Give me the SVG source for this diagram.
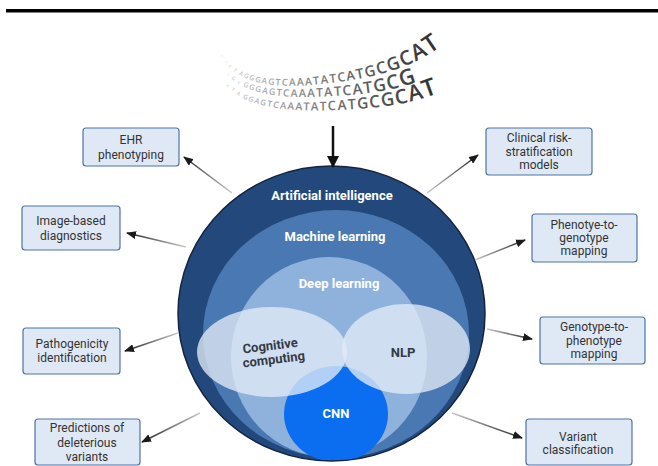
<svg xmlns="http://www.w3.org/2000/svg" width="658" height="466" viewBox="0 0 658 466">
  <style>
    .box { fill: #dfe9f6; stroke: #4f74a3; stroke-width: 1.2; }
    .btxt { font-family: Roboto, "Liberation Sans", sans-serif; font-size: 12px; fill: #333; text-anchor: middle; }
    .ring { font-family: Roboto, "Liberation Sans", sans-serif; font-size: 13px; font-weight: bold; text-anchor: middle; }
    .wt { fill: #ffffff; }
    .dk { fill: #333b46; }
    .dna { font-family: "Open Sans", "DejaVu Sans", sans-serif; font-weight: 600; letter-spacing: 1.3px; fill: url(#dnaFade); }
    .conn { fill: none; stroke-width: 1.5; }
  </style>
  <defs>
    <marker id="head" markerUnits="userSpaceOnUse" markerWidth="10" markerHeight="8" refX="9" refY="4" orient="auto">
      <path d="M0,0 L10,4 L0,8 Z" fill="#1a1a1a"/>
    </marker>
    <marker id="bighead" markerUnits="userSpaceOnUse" markerWidth="12" markerHeight="12" refX="11" refY="6" orient="auto">
      <path d="M0,0 L12,6 L0,12 Z" fill="#111"/>
    </marker>
    <linearGradient id="dnaFade" gradientUnits="userSpaceOnUse" x1="222" y1="0" x2="440" y2="0">
      <stop offset="0" stop-color="#d6d6d6"/>
      <stop offset="0.35" stop-color="#8a8a8a"/>
      <stop offset="1" stop-color="#2c2c2c"/>
    </linearGradient>
    <!-- connector fades: pale at the circle, dark at the arrowhead -->
    <linearGradient id="g1" gradientUnits="userSpaceOnUse" x1="232" y1="193" x2="184" y2="157"><stop offset="0" stop-color="#c8c8c8"/><stop offset="1" stop-color="#222"/></linearGradient>
    <linearGradient id="g2" gradientUnits="userSpaceOnUse" x1="186" y1="247" x2="127" y2="233"><stop offset="0" stop-color="#c8c8c8"/><stop offset="1" stop-color="#222"/></linearGradient>
    <linearGradient id="g3" gradientUnits="userSpaceOnUse" x1="178" y1="333" x2="125" y2="351"><stop offset="0" stop-color="#c8c8c8"/><stop offset="1" stop-color="#222"/></linearGradient>
    <linearGradient id="g4" gradientUnits="userSpaceOnUse" x1="200" y1="413" x2="142" y2="442"><stop offset="0" stop-color="#c8c8c8"/><stop offset="1" stop-color="#222"/></linearGradient>
    <linearGradient id="g5" gradientUnits="userSpaceOnUse" x1="427" y1="193" x2="478" y2="155"><stop offset="0" stop-color="#c8c8c8"/><stop offset="1" stop-color="#222"/></linearGradient>
    <linearGradient id="g6" gradientUnits="userSpaceOnUse" x1="475" y1="260" x2="525" y2="240"><stop offset="0" stop-color="#c8c8c8"/><stop offset="1" stop-color="#222"/></linearGradient>
    <linearGradient id="g7" gradientUnits="userSpaceOnUse" x1="487" y1="329" x2="532" y2="339"><stop offset="0" stop-color="#c8c8c8"/><stop offset="1" stop-color="#222"/></linearGradient>
    <linearGradient id="g8" gradientUnits="userSpaceOnUse" x1="452" y1="413" x2="522" y2="438"><stop offset="0" stop-color="#c8c8c8"/><stop offset="1" stop-color="#222"/></linearGradient>
    <clipPath id="outerClip">
      <ellipse cx="331.5" cy="313.5" rx="153.5" ry="147.5"/>
    </clipPath>
    <path id="row1" d="M 220,56 C 238,85 275,89 322,84 S 412,70 446,42"/>
    <path id="row2" d="M 224,71 C 244,96 282,99 334,96 S 418,86 452,64"/>
    <path id="row3" d="M 226,86 C 248,108 286,112 338,110 S 422,102 456,85"/>
  </defs>

  <!-- header rule -->
  <rect x="6" y="9" width="652" height="3.5" fill="#000"/>

  <!-- DNA sequence ribbon -->
  <g id="dna">
    <text class="dna"><textPath href="#row1" startOffset="0"><tspan font-size="4" opacity="0.5">c' r </tspan><tspan font-size="5">c T </tspan><tspan font-size="6">A</tspan><tspan font-size="6.5">G</tspan><tspan font-size="7">G</tspan><tspan font-size="7.5">G</tspan><tspan font-size="8">A</tspan><tspan font-size="8.5">G</tspan><tspan font-size="9">T</tspan><tspan font-size="9.5">C</tspan><tspan font-size="10">A</tspan><tspan font-size="10.5">A</tspan><tspan font-size="10.5">A</tspan><tspan font-size="11">T</tspan><tspan font-size="11.5">A</tspan><tspan font-size="12">T</tspan><tspan font-size="12.5">C</tspan><tspan font-size="13">A</tspan><tspan font-size="14">T</tspan><tspan font-size="15">G</tspan><tspan font-size="16.5">C</tspan><tspan font-size="18">G</tspan><tspan font-size="20">C</tspan><tspan font-size="22">A</tspan><tspan font-size="24">T</tspan></textPath></text>
    <text class="dna"><textPath href="#row2" startOffset="0"><tspan font-size="4" opacity="0.5">' c </tspan><tspan font-size="5">G c </tspan><tspan font-size="7">G</tspan><tspan font-size="7.5">G</tspan><tspan font-size="8">G</tspan><tspan font-size="8.5">A</tspan><tspan font-size="9">G</tspan><tspan font-size="9.5">T</tspan><tspan font-size="10">C</tspan><tspan font-size="10.5">A</tspan><tspan font-size="11">A</tspan><tspan font-size="11.5">A</tspan><tspan font-size="12">T</tspan><tspan font-size="12.5">A</tspan><tspan font-size="13">T</tspan><tspan font-size="14">C</tspan><tspan font-size="15">A</tspan><tspan font-size="16">T</tspan><tspan font-size="17.5">G</tspan><tspan font-size="19.5">C</tspan><tspan font-size="22">G</tspan></textPath></text>
    <text class="dna"><textPath href="#row3" startOffset="0"><tspan font-size="5">c T A </tspan><tspan font-size="6.5">G</tspan><tspan font-size="7">G</tspan><tspan font-size="7.5">A</tspan><tspan font-size="8">G</tspan><tspan font-size="8.5">T</tspan><tspan font-size="9">C</tspan><tspan font-size="9.5">A</tspan><tspan font-size="10">A</tspan><tspan font-size="10.5">A</tspan><tspan font-size="11">T</tspan><tspan font-size="11.5">A</tspan><tspan font-size="12">T</tspan><tspan font-size="13">C</tspan><tspan font-size="13.5">A</tspan><tspan font-size="14.5">T</tspan><tspan font-size="15.5">G</tspan><tspan font-size="17">C</tspan><tspan font-size="18.5">G</tspan><tspan font-size="20">C</tspan><tspan font-size="22">A</tspan><tspan font-size="24">T</tspan></textPath></text>
  </g>

  <!-- nested AI circles -->
  <g id="ai-circle">
    <ellipse cx="331.5" cy="313.5" rx="153.5" ry="147.5" fill="#23487b"/>
    <g clip-path="url(#outerClip)">
      <ellipse id="ml" cx="336" cy="334" rx="133" ry="124" fill="#4a78b2"/>
      <ellipse id="dl" cx="329" cy="357" rx="98" ry="100" fill="#8fb2dd"/>
      <ellipse id="cnn" cx="336" cy="414" rx="52" ry="48" fill="#0b6df0"/>
      <ellipse id="cognitive" cx="272" cy="352" rx="75" ry="45" fill="#e2eaf6" fill-opacity="0.78"/>
      <ellipse id="nlp" cx="406" cy="349" rx="64" ry="45" fill="#e2eaf6" fill-opacity="0.78"/>
    </g>
    <ellipse cx="331.5" cy="313.5" rx="153.5" ry="147.5" fill="none" stroke="#14243f" stroke-width="1.5"/>
    <text class="ring wt" x="332" y="200">Artificial intelligence</text>
    <text class="ring wt" x="335" y="241">Machine learning</text>
    <text class="ring wt" x="339" y="288">Deep learning</text>
    <text class="ring dk" transform="rotate(-7 271 353)"><tspan x="271" y="350">Cognitive</tspan><tspan x="273" y="364">computing</tspan></text>
    <text class="ring dk" x="403" y="357">NLP</text>
    <text class="ring wt" x="336" y="418">CNN</text>
  </g>

  <!-- connectors -->
  <g id="connectors">
    <line x1="333" y1="126" x2="333" y2="167" stroke="#111" stroke-width="2.5" marker-end="url(#bighead)"/>
    <line class="conn" x1="232" y1="193" x2="184" y2="157" stroke="url(#g1)" marker-end="url(#head)"/>
    <line class="conn" x1="186" y1="247" x2="127" y2="233" stroke="url(#g2)" marker-end="url(#head)"/>
    <line class="conn" x1="178" y1="333" x2="125" y2="351" stroke="url(#g3)" marker-end="url(#head)"/>
    <line class="conn" x1="200" y1="413" x2="142" y2="442" stroke="url(#g4)" marker-end="url(#head)"/>
    <line class="conn" x1="427" y1="193" x2="478" y2="155" stroke="url(#g5)" marker-end="url(#head)"/>
    <line class="conn" x1="475" y1="260" x2="525" y2="240" stroke="url(#g6)" marker-end="url(#head)"/>
    <line class="conn" x1="487" y1="329" x2="532" y2="339" stroke="url(#g7)" marker-end="url(#head)"/>
    <line class="conn" x1="452" y1="413" x2="522" y2="438" stroke="url(#g8)" marker-end="url(#head)"/>
  </g>

  <!-- application boxes -->
  <g id="ehr">
    <rect class="box" x="83" y="128" width="96" height="38" rx="3"/>
    <text class="btxt"><tspan x="131" y="144">EHR</tspan><tspan x="131" y="159">phenotyping</tspan></text>
  </g>
  <g id="image-dx">
    <rect class="box" x="22" y="206" width="98" height="44" rx="3"/>
    <text class="btxt"><tspan x="71" y="225">Image-based</tspan><tspan x="71" y="240">diagnostics</tspan></text>
  </g>
  <g id="pathogenicity">
    <rect class="box" x="23" y="328" width="97" height="46" rx="3"/>
    <text class="btxt"><tspan x="72" y="348">Pathogenicity</tspan><tspan x="72" y="362">identification</tspan></text>
  </g>
  <g id="deleterious">
    <rect class="box" x="35" y="419" width="105" height="46" rx="3"/>
    <text class="btxt"><tspan x="87" y="432">Predictions of</tspan><tspan x="87" y="447">deleterious</tspan><tspan x="87" y="461">variants</tspan></text>
  </g>
  <g id="risk">
    <rect class="box" x="486" y="128" width="106" height="47" rx="3"/>
    <text class="btxt"><tspan x="539" y="142">Clinical risk-</tspan><tspan x="539" y="156">stratification</tspan><tspan x="539" y="169">models</tspan></text>
  </g>
  <g id="pheno-geno">
    <rect class="box" x="532" y="214" width="105" height="48" rx="3"/>
    <text class="btxt"><tspan x="584" y="229">Phenotye-to-</tspan><tspan x="584" y="242">genotype</tspan><tspan x="584" y="255">mapping</tspan></text>
  </g>
  <g id="geno-pheno">
    <rect class="box" x="540" y="317" width="105" height="47" rx="3"/>
    <text class="btxt"><tspan x="594" y="331">Genotype-to-</tspan><tspan x="594" y="345">phenotype</tspan><tspan x="594" y="358">mapping</tspan></text>
  </g>
  <g id="variant">
    <rect class="box" x="526" y="419" width="106" height="46" rx="3"/>
    <text class="btxt"><tspan x="578" y="441">Variant</tspan><tspan x="578" y="454">classification</tspan></text>
  </g>
</svg>
